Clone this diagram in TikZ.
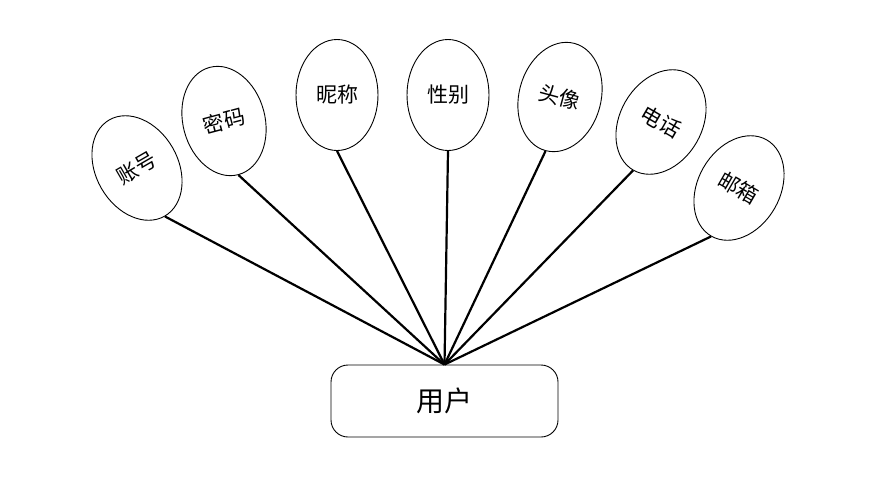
\documentclass[tikz,border=0pt]{standalone}
\usepackage{fontspec}
\newfontfamily\cjk{Noto Sans CJK SC}
\usetikzlibrary{shapes.geometric}

\begin{document}
\begin{tikzpicture}[x=1pt,y=-1pt,
  attr/.style={ellipse,draw,line width=0.9pt,minimum width=82pt,minimum height=111pt,inner sep=0pt,
    font=\cjk\fontsize{21}{24}\selectfont},
  entity/.style={draw,line width=0.9pt,rounded corners=17pt,minimum width=227pt,minimum height=72pt,
    font=\cjk\fontsize{28}{32}\selectfont},
  link/.style={line width=2.2pt}]
\useasboundingbox (0,0) rectangle (878,485);
\node[entity] (user) at (444.5,401) {用户};
\node[attr,rotate=30] (acct) at (137,168) {账号};
\node[attr,rotate=15] (pwd) at (224,121) {密码};
\node[attr] (nick) at (337,95) {昵称};
\node[attr] (sex) at (448,95) {性别};
\node[attr,rotate=-15] (avatar) at (560,97) {头像};
\node[attr,rotate=-30] (tel) at (661,122) {电话};
\node[attr,rotate=-30] (mail) at (739,188) {邮箱};
\foreach \a in {acct,pwd,nick,sex,avatar,tel,mail}
  \draw[link] (\a.south) -- (user.north);
\end{tikzpicture}
\end{document}
